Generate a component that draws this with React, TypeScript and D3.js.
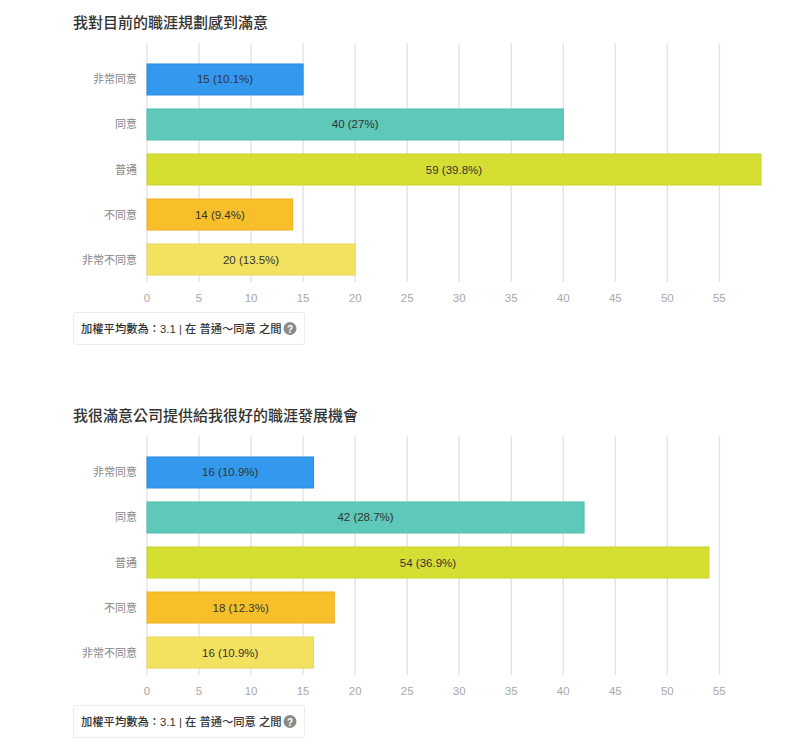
import React from "react";
import * as d3 from "d3";

const categories = ["非常同意", "同意", "普通", "不同意", "非常不同意"];
const colors = ["#3399ee", "#5ec8b9", "#d5df33", "#f8bf2b", "#f3e160"];
const strokes = ["#2b8ae0", "#52bcad", "#c9d32a", "#efb020", "#ead657"];

const title1 = "我對目前的職涯規劃感到滿意";
const values1 = [15, 40, 59, 14, 20];
const pcts1 = ["10.1%", "27%", "39.8%", "9.4%", "13.5%"];
const summary1 = "加權平均數為：3.1 | 在 普通～同意 之間";

const title2 = "我很滿意公司提供給我很好的職涯發展機會";
const values2 = [16, 42, 54, 18, 16];
const pcts2 = ["10.9%", "28.7%", "36.9%", "12.3%", "10.9%"];
const summary2 = "加權平均數為：3.1 | 在 普通～同意 之間";

const tickValues = [0, 5, 10, 15, 20, 25, 30, 35, 40, 45, 50, 55];
const xMax = 59;

const FONT = "'Liberation Sans', 'Noto Sans CJK TC', sans-serif";
const CJK = "'Noto Sans CJK TC', sans-serif";

function Chart({ y0, title, values, pcts, summary }: any) {
  const x = d3.scaleLinear().domain([0, xMax]).range([147, 761]);
  const y = d3
    .scaleBand<string>()
    .domain(categories)
    .range([57, 282])
    .paddingInner(0.311)
    .paddingOuter(0.155);
  return (
    <g transform={`translate(0,${y0})`}>
      <text x={73} y={28} fontSize={15} fontWeight={500} fill="#333" fontFamily={CJK}>
        {title}
      </text>
      {tickValues.map((t) => (
        <g key={t}>
          <line x1={x(t)} x2={x(t)} y1={43} y2={282} stroke="#e6e4ea" strokeWidth={1.5} />
          <text x={x(t)} y={302} textAnchor="middle" fontSize={11.5} fill="#a8a8a8" fontFamily={FONT}>
            {t}
          </text>
        </g>
      ))}
      {categories.map((c, i) => (
        <g key={c}>
          <text
            x={137}
            y={(y(c) as number) + y.bandwidth() / 2 + 4}
            textAnchor="end"
            fontSize={11}
            fill="#888"
            fontFamily={CJK}
          >
            {c}
          </text>
          <rect
            x={x(0)}
            y={y(c)}
            width={x(values[i]) - x(0)}
            height={y.bandwidth()}
            fill={colors[i]}
            stroke={strokes[i]}
            strokeWidth={1}
          />
          <text
            x={(x(0) + x(values[i])) / 2}
            y={(y(c) as number) + y.bandwidth() / 2 + 4}
            textAnchor="middle"
            fontSize={11.5}
            fill="#333"
            fontFamily={FONT}
          >
            {`${values[i]} (${pcts[i]})`}
          </text>
        </g>
      ))}
      <rect x={73.5} y={312.5} width={231} height={32} fill="#fff" stroke="#ececec" rx={2} />
      <text x={81} y={332.5} fontSize={11.3} fill="#333" fontFamily={FONT} fontWeight={500}>
        {summary}
      </text>
      <circle cx={290} cy={328.5} r={6.5} fill="#8a8a8a" />
      <text x={290} y={332.5} textAnchor="middle" fontSize={10} fontWeight={700} fill="#fff" fontFamily={FONT}>
        ?
      </text>
    </g>
  );
}

export default function App() {
  return (
    <svg
      width={800}
      height={747}
      style={{ position: "absolute", left: 0, top: 0, background: "#fff" }}
    >
      <rect width={800} height={747} fill="#fff" />
      <Chart y0={0} title={title1} values={values1} pcts={pcts1} summary={summary1} />
      <Chart y0={393} title={title2} values={values2} pcts={pcts2} summary={summary2} />
    </svg>
  );
}
